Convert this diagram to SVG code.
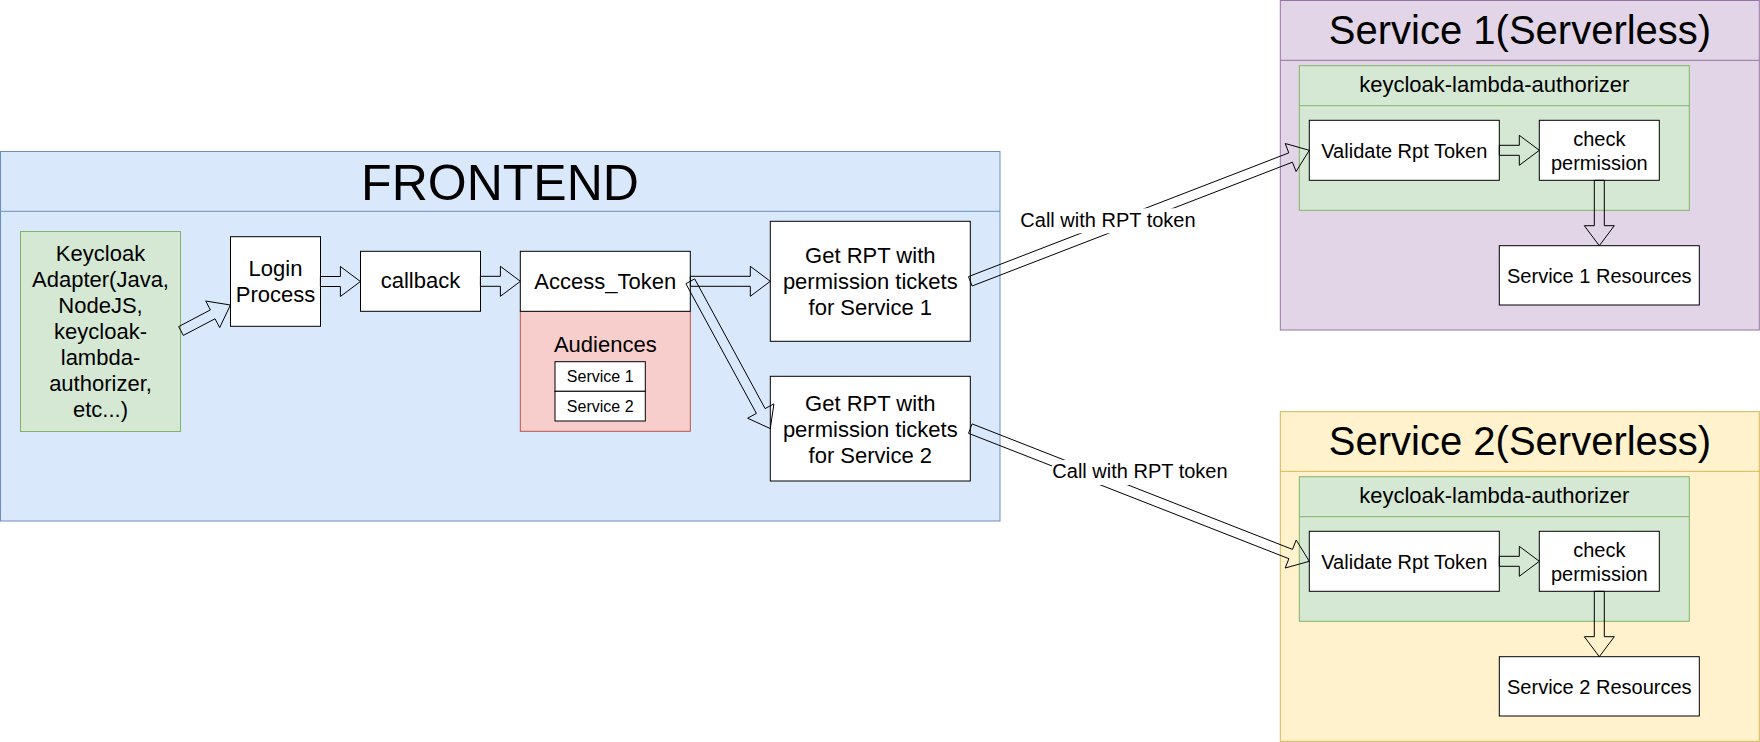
<svg xmlns="http://www.w3.org/2000/svg" width="1760" height="742" viewBox="0 0 1760 742">
<style>
text{font-family:"Liberation Sans",Arial,sans-serif;fill:#000;text-anchor:middle}
.box{fill:#fff;stroke:#000;stroke-width:1}
.t22{font-size:22px}
.t20{font-size:20px}
.t16{font-size:16px}
.arrow{fill:none;stroke:#000;stroke-width:1;stroke-linejoin:miter}
.lbl{fill:#fff;stroke:none}
</style>
<rect width="1760" height="742" fill="#fff"/>

<g id="frontend">
<rect x="0.5" y="151.5" width="999.5" height="369.5" fill="#dae8fc" stroke="#6c8ebf"/>
<line x1="0.5" y1="211.3" x2="1000" y2="211.3" stroke="#6c8ebf"/>
<text x="500" y="199.5" style="font-size:50px">FRONTEND</text>
</g>

<g id="keycloak-adapter">
<rect x="20.5" y="231.5" width="160" height="200" fill="#d5e8d4" stroke="#82b366"/>
<text class="t22" x="100.5" y="260.7">Keycloak</text>
<text class="t22" x="100.5" y="286.7">Adapter(Java,</text>
<text class="t22" x="100.5" y="312.7">NodeJS,</text>
<text class="t22" x="100.5" y="338.7">keycloak-</text>
<text class="t22" x="100.5" y="364.7">lambda-</text>
<text class="t22" x="100.5" y="390.7">authorizer,</text>
<text class="t22" x="100.5" y="416.7">etc...)</text>
</g>

<g id="login">
<rect class="box" x="230.5" y="236.7" width="90" height="89.6"/>
<text class="t22" x="275.5" y="276">Login</text>
<text class="t22" x="275.5" y="301.7">Process</text>
</g>

<g id="callback">
<rect class="box" x="360.5" y="251.3" width="120" height="60"/>
<text class="t22" x="420.5" y="288.3">callback</text>
</g>

<g id="access-token">
<rect x="520.3" y="311.3" width="170" height="120" fill="#f8cecc" stroke="#b85450"/>
<rect class="box" x="520.3" y="251.3" width="170" height="60"/>
<text class="t22" x="605.3" y="289.3">Access_Token</text>
<text class="t22" x="605.3" y="352.3">Audiences</text>
<rect class="box" x="555" y="361.7" width="90.3" height="29.6"/>
<rect class="box" x="555" y="391.3" width="90.3" height="29.7"/>
<text class="t16" x="600.2" y="381.7">Service 1</text>
<text class="t16" x="600.2" y="411.7">Service 2</text>
</g>

<g id="rpt1">
<rect class="box" x="770.3" y="221.3" width="200" height="120"/>
<text class="t22" x="870.3" y="263.3">Get RPT with</text>
<text class="t22" x="870.3" y="289.3">permission tickets</text>
<text class="t22" x="870.3" y="315.3">for Service 1</text>
</g>

<g id="rpt2">
<rect class="box" x="770.3" y="376.3" width="200" height="104.7"/>
<text class="t22" x="870.3" y="411">Get RPT with</text>
<text class="t22" x="870.3" y="437">permission tickets</text>
<text class="t22" x="870.3" y="463">for Service 2</text>
</g>

<g id="service1">
<rect x="1280.3" y="0.5" width="479" height="329.5" fill="#e1d5e7" stroke="#9673a6"/>
<line x1="1280.3" y1="60.3" x2="1759.3" y2="60.3" stroke="#9673a6"/>
<text x="1520" y="44.3" style="font-size:40px">Service 1(Serverless)</text>
<rect x="1299.3" y="65.7" width="390" height="144.6" fill="#d5e8d4" stroke="#82b366"/>
<line x1="1299.3" y1="105.7" x2="1689.3" y2="105.7" stroke="#82b366"/>
<text class="t22" x="1494.3" y="92.3">keycloak-lambda-authorizer</text>
</g>
<g id="validate1">
<rect class="box" x="1309.3" y="120.3" width="190" height="60"/>
<text class="t20" x="1404.3" y="157.7">Validate Rpt Token</text>
</g>
<g id="check1">
<rect class="box" x="1539.3" y="120.3" width="120" height="60"/>
<text class="t20" x="1599.3" y="145.7">check</text>
<text class="t20" x="1599.3" y="170">permission</text>
</g>
<g id="resources1">
<rect class="box" x="1499.3" y="245.7" width="200" height="59.3"/>
<text class="t20" x="1599.3" y="282.7">Service 1 Resources</text>
</g>

<g id="service2">
<rect x="1280.3" y="411.7" width="479" height="329.6" fill="#fff2cc" stroke="#d6b656"/>
<line x1="1280.3" y1="471.3" x2="1759.3" y2="471.3" stroke="#d6b656"/>
<text x="1520" y="455" style="font-size:40px">Service 2(Serverless)</text>
<rect x="1299.3" y="476.7" width="390" height="144.6" fill="#d5e8d4" stroke="#82b366"/>
<line x1="1299.3" y1="516.7" x2="1689.3" y2="516.7" stroke="#82b366"/>
<text class="t22" x="1494.3" y="503.3">keycloak-lambda-authorizer</text>
</g>
<g id="validate2">
<rect class="box" x="1309.3" y="531.3" width="190" height="60"/>
<text class="t20" x="1404.3" y="568.7">Validate Rpt Token</text>
</g>
<g id="check2">
<rect class="box" x="1539.3" y="531.3" width="120" height="60"/>
<text class="t20" x="1599.3" y="556.7">check</text>
<text class="t20" x="1599.3" y="581">permission</text>
</g>
<g id="resources2">
<rect class="box" x="1499.3" y="656.7" width="200" height="59.3"/>
<text class="t20" x="1599.3" y="693.7">Service 2 Resources</text>
</g>

<g id="connectors">
<polygon class="arrow" points="178.7,326.6 210.4,309.9 205.7,301.0 230.4,305 219.7,327.6 215.0,318.8 183.3,335.4"/>
<polygon class="arrow" points="320.4,276.5 340.4,276.5 340.4,266.5 360.4,281.5 340.4,296.5 340.4,286.5 320.4,286.5"/>
<polygon class="arrow" points="480.4,276.3 500.4,276.3 500.4,266.3 520.4,281.3 500.4,296.3 500.4,286.3 480.4,286.3"/>
<polygon class="arrow" points="690.3,276.3 750.3,276.3 750.3,266.3 770.3,281.3 750.3,296.3 750.3,286.3 690.3,286.3"/>
<polygon class="arrow" points="694.7,278.9 765.1,408.6 773.9,403.9 770.3,428.6 747.6,418.2 756.4,413.4 685.9,283.7"/>
<polygon class="arrow" points="968.5,276.6 1288.8,152.9 1285.2,143.5 1309.3,150.3 1296.1,171.5 1292.4,162.2 972.1,286.0"/>
<polygon class="arrow" points="972.1,423.9 1292.5,549.4 1296.2,540.0 1309.3,561.3 1285.2,568.0 1288.9,558.7 968.5,433.3"/>
<polygon class="arrow" points="1499.3,145.3 1519.3,145.3 1519.3,135.3 1539.3,150.3 1519.3,165.3 1519.3,155.3 1499.3,155.3"/>
<polygon class="arrow" points="1604.3,180.3 1604.3,225.7 1614.3,225.7 1599.3,245.7 1584.3,225.7 1594.3,225.7 1594.3,180.3"/>
<polygon class="arrow" points="1499.3,556.3 1519.3,556.3 1519.3,546.3 1539.3,561.3 1519.3,576.3 1519.3,566.3 1499.3,566.3"/>
<polygon class="arrow" points="1604.3,591.3 1604.3,636.7 1614.3,636.7 1599.3,656.7 1584.3,636.7 1594.3,636.7 1594.3,591.3"/>
<rect class="lbl" x="1020" y="208.3" width="176" height="25"/>
<text class="t20" x="1108" y="227.3">Call with RPT token</text>
<rect class="lbl" x="1052" y="460" width="176" height="25"/>
<text class="t20" x="1140" y="478">Call with RPT token</text>
</g>
</svg>
